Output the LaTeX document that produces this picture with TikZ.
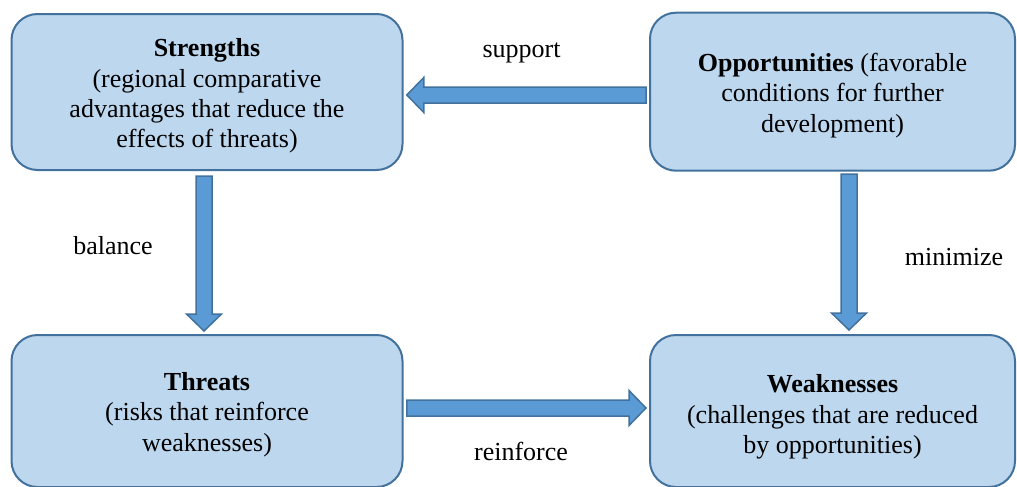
\documentclass[tikz,border=0pt]{standalone}
\usepackage{fontspec}
\setmainfont{LiberationSerif}[
    Extension=.ttf,
    UprightFont=*-Regular,
    BoldFont=*-Bold,
    ItalicFont=*-Italic,
    BoldItalicFont=*-BoldItalic]
\usetikzlibrary{positioning,calc}

\definecolor{cardfill}{HTML}{BDD7EE}
\definecolor{cardedge}{HTML}{41719C}
\definecolor{flowfill}{HTML}{5B9BD5}
\definecolor{flowedge}{HTML}{41719C}

\newcommand{\cardlift}[1]{\rule{0pt}{#1}}

\begin{document}
\begin{tikzpicture}[
    font=\rmfamily\fontsize{13}{15.2}\selectfont,
    card/.style={
        draw=cardedge,
        fill=cardfill,
        rounded corners=13pt,
        align=center,
        line width=1pt,
        inner sep=4pt
    },
    blockflow/.style={
        draw=flowedge,
        fill=flowfill,
        line width=0.75pt,
        line join=miter,
        to path={
            let \p1=(\tikztostart), \p2=(\tikztotarget),
                \n1={atan2(\y2-\y1,\x2-\x1)},
                \n2={veclen(\x2-\x1,\y2-\y1)},
                \n3={\n2-8.5pt}
            in ($(\p1)+(\n1+90:4pt)$)
            -- ($(\p1)+(\n1:\n3)+(\n1+90:4pt)$)
            -- ($(\p1)+(\n1:\n3)+(\n1+90:8.75pt)$)
            -- (\p2)
            -- ($(\p1)+(\n1:\n3)+(\n1-90:8.75pt)$)
            -- ($(\p1)+(\n1:\n3)+(\n1-90:4pt)$)
            -- ($(\p1)+(\n1-90:4pt)$)
            -- cycle
        }
    },
    flowlabel/.style={inner sep=0pt}
]
\useasboundingbox (0,0) rectangle (508.5pt,-243.5pt);

\node[card, minimum width=195.5pt, minimum height=78pt] (str) at (103.5pt,-46pt)
    {\cardlift{13pt}\textbf{Strengths}\\(regional comparative\\advantages that reduce the\\effects of threats)};
\node[card, minimum width=182.5pt, minimum height=79pt] (opp) at (416.25pt,-45.85pt)
    {\cardlift{13pt}\textbf{Opportunities} (favorable\\conditions for further\\development)};
\node[card, minimum width=195.5pt, minimum height=76pt] (thr) at (103.5pt,-205.5pt)
    {\cardlift{12.5pt}\textbf{Threats}\\(risks that reinforce\\weaknesses)};
\node[card, minimum width=182.5pt, minimum height=76pt] (weak) at (416.25pt,-205.5pt)
    {\cardlift{15pt}\textbf{Weaknesses}\\(challenges that are reduced\\by opportunities)};

\draw[blockflow] ([shift={(-1.5pt,-1.65pt)}]opp.west) to ([shift={(1.65pt,-1.5pt)}]str.east);
\draw[blockflow] ([shift={(-1.5pt,-2.5pt)}]str.south) to ([shift={(-1.5pt,1.5pt)}]thr.north);
\draw[blockflow] ([shift={(8.25pt,-1.15pt)}]opp.south) to ([shift={(8.25pt,2pt)}]weak.north);
\draw[blockflow] ([shift={(1.65pt,1.5pt)}]thr.east) to ([shift={(-1.5pt,1.5pt)}]weak.west);

\node[flowlabel] (lsupport) at (260.75pt,-26.25pt) {support};
\node[flowlabel] (lbalance) at (56.5pt,-122.75pt) {balance};
\node[flowlabel] (lminimize) at (477pt,-128.75pt) {minimize};
\node[flowlabel] (lreinforce) at (260.5pt,-225.5pt) {reinforce};
\end{tikzpicture}
\end{document}
